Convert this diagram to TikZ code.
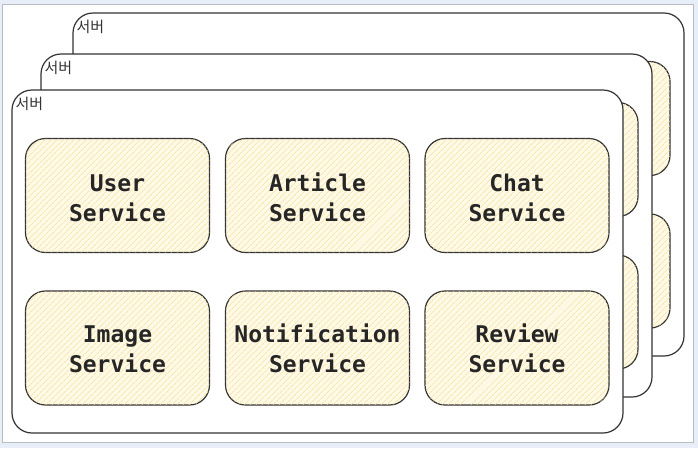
\documentclass[tikz,border=0pt]{standalone}
\usepackage{fontspec}
\setmonofont{DejaVu Sans Mono}
\newfontfamily\krfont{Noto Sans CJK KR}
\usetikzlibrary{patterns.meta}

\definecolor{framebg}{HTML}{E8EEF8}
\definecolor{framegray}{HTML}{B8BCC4}
\definecolor{inkgray}{HTML}{333333}
\definecolor{paleyellow}{HTML}{FFF9E6}
\definecolor{hatchyellow}{HTML}{F4DC8E}

\begin{document}
\begin{tikzpicture}[x=1pt,y=-1pt]
\tikzset{ server/.style={draw=inkgray, line width=1.2pt, fill=white, rounded corners=20pt,
            minimum width=611pt, minimum height=343pt, inner sep=0pt},
          svc/.style={draw=inkgray, line width=1.2pt, fill=paleyellow,
            postaction={pattern={Lines[angle=45,distance=4pt,line width=0.6pt]}, pattern color=hatchyellow},
            rounded corners=20pt, minimum width=184pt, minimum height=114pt, align=center,
            font=\ttfamily\bfseries\fontsize{23}{30}\selectfont, text=black!85},
          tag/.style={anchor=north west, inner sep=0pt, font=\krfont\fontsize{15}{15}\selectfont, text=inkgray},
}

\useasboundingbox (0,0) rectangle (698,448);
\fill [framebg] (0,0) rectangle (698,448);
\draw [framegray, fill=white] (2,4) rectangle (693,442);

% back server
\node [server] (back) at (378.5,184.5) {};
\node [tag] (backtag) at ([shift={(4,7)}]back.north west) {서버};
\node [svc] (backchat)   at (578,118.5) {};
\node [svc] (backreview) at (578,271) {};

% middle server
\node [server] (mid) at (346.5,225.5) {};
\node [tag] (midtag) at ([shift={(4,7)}]mid.north west) {서버};
\node [svc] (midchat)   at (546,159.5) {};
\node [svc] (midreview) at (546,312) {};

% front server
\node [server] (front) at (317.5,261.5) {};
\node [tag] (fronttag) at ([shift={(4,7)}]front.north west) {서버};

\node [svc, text height=53pt] (user)         at (117.5,195.5) {User\\Service};
\node [svc, text height=53pt] (article)      at (317.5,195.5) {Article\\Service};
\node [svc, text height=53pt] (chat)         at (517,195.5)   {Chat\\Service};
\node [svc, text height=50pt] (image)        at (117.5,348)   {Image\\Service};
\node [svc, text height=50pt] (notification) at (317.5,348)   {Notification\\Service};
\node [svc, text height=50pt] (review)       at (517,348)     {Review\\Service};
\end{tikzpicture}
\end{document}
